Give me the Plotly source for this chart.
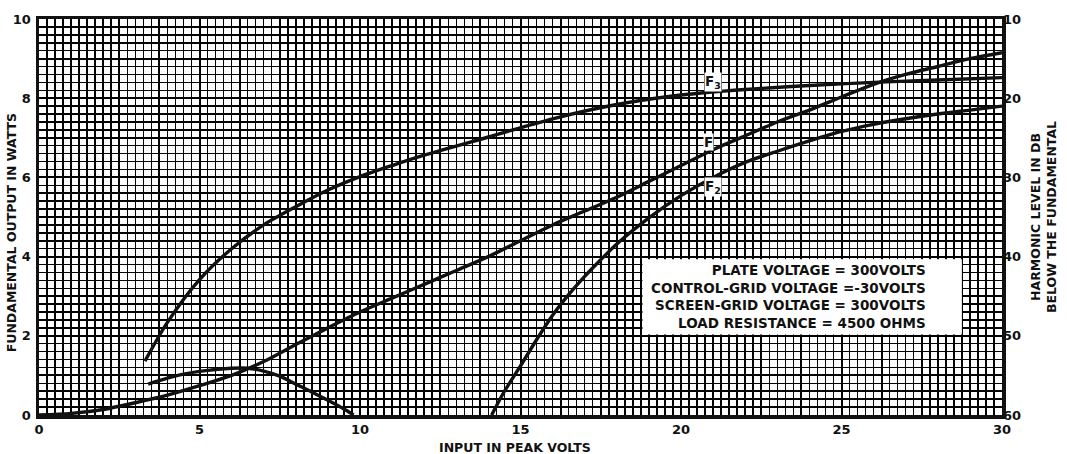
import numpy as np
import plotly.graph_objects as go

# ---------------- data ----------------
# Fundamental output F, watts (left axis)
F_X = [0, 1, 2, 3, 4, 5, 6, 7, 8, 9, 10, 11, 12, 13, 14, 15, 16, 17, 18, 19,
       20, 21, 22, 23, 24, 25, 26, 27, 28, 29, 30]
F_W = [0, 0.04, 0.14, 0.31, 0.5, 0.74, 1.0, 1.35, 1.78, 2.2, 2.6, 2.95, 3.3,
       3.65, 4.0, 4.4, 4.8, 5.15, 5.5, 5.9, 6.3, 6.7, 7.05, 7.4, 7.7, 8.03,
       8.35, 8.6, 8.8, 9.0, 9.15]

# Third harmonic F3, dB below the fundamental (right axis)
F3_X = [3.3, 4, 5, 6, 7, 8, 9, 10, 11, 12, 14, 16, 18, 20, 22, 24, 26, 28, 30]
F3_DB = [53.2, 48.3, 42.9, 39.0, 36.0, 33.7, 31.6, 29.9, 28.5, 27.2, 24.9,
         22.6, 20.8, 19.6, 18.9, 18.4, 18.0, 17.7, 17.4]

# Second harmonic F2, dB below the fundamental (right axis)
F2_X = [14.1, 14.5, 15, 15.5, 16, 16.5, 17, 17.5, 18, 19, 20, 21, 22, 23, 24,
        25, 26, 27, 28, 29, 30]
F2_DB = [60, 57.0, 53.8, 50.5, 47.4, 44.8, 42.5, 40.4, 38.4, 35.1, 32.3, 30.0,
         28.1, 26.7, 25.4, 24.2, 23.3, 22.6, 22.0, 21.5, 21.0]

# Unlabelled low-level harmonic curve, dB (right axis)
H_X = [3.4, 4, 4.5, 5, 5.5, 6, 6.5, 7, 7.5, 8, 8.5, 9, 9.5, 9.8]
H_DB = [56.1, 55.35, 54.85, 54.5, 54.25, 54.1, 54.1, 54.45, 55.1, 56.1, 57.1,
        58.15, 59.25, 60.0]

X_TICK_VALUES = [0, 5, 10, 15, 20, 25, 30]
X_TICK_LABELS = ["0", "5", "10", "15", "20", "25", "30"]
Y_TICK_VALUES = [0, 2, 4, 6, 8, 10]
Y_TICK_LABELS = ["0", "2", "4", "6", "8", "10"]
Y2_TICK_VALUES = [10, 20, 30, 40, 50, 60]
Y2_TICK_LABELS = ["10", "20", "30", "40", "50", "60"]

CONDITIONS = [
    "PLATE VOLTAGE = 300VOLTS",
    "CONTROL-GRID VOLTAGE =-30VOLTS",
    "SCREEN-GRID VOLTAGE = 300VOLTS",
    "LOAD RESISTANCE = 4500 OHMS",
]

# ---------------- figure ----------------
FONT = "DejaVu Sans"
INK = "#111111"
W, H = 1067, 454
ML, MR, MT, MB = 39, 65, 15, 39

# heavy grid every 1.25 V / 1 W, labels only at the given ticks
x_major = list(np.arange(0, 30.001, 1.25))
x_text = [X_TICK_LABELS[X_TICK_VALUES.index(v)] if v in X_TICK_VALUES else ""
          for v in x_major]
y_major = list(range(0, 11))
y_text = [Y_TICK_LABELS[Y_TICK_VALUES.index(v)] if v in Y_TICK_VALUES else ""
          for v in y_major]

line_style = dict(color=INK, width=3.4, shape="spline", smoothing=0.8)

fig = go.Figure()
fig.add_trace(go.Scatter(x=F_X, y=F_W, mode="lines", line=line_style,
                         name="F", yaxis="y", hoverinfo="skip"))
fig.add_trace(go.Scatter(x=F3_X, y=F3_DB, mode="lines", line=line_style,
                         name="F3", yaxis="y2", hoverinfo="skip"))
fig.add_trace(go.Scatter(x=F2_X, y=F2_DB, mode="lines", line=line_style,
                         name="F2", yaxis="y2", hoverinfo="skip"))
fig.add_trace(go.Scatter(x=H_X, y=H_DB, mode="lines", line=line_style,
                         name="H", yaxis="y2", hoverinfo="skip"))

tickfont = dict(family=FONT, size=13, color=INK, weight="bold")

fig.update_layout(
    width=W, height=H,
    margin=dict(l=ML, r=MR, t=MT, b=MB, pad=0),
    paper_bgcolor="white", plot_bgcolor="white",
    showlegend=False,
    xaxis=dict(
        range=[0, 30], tickmode="array", tickvals=x_major, ticktext=x_text,
        showgrid=True, gridcolor="#000000", gridwidth=2.0,
        minor=dict(tick0=0, dtick=0.25, showgrid=True, gridcolor="#000000",
                   gridwidth=1.5),
        showline=True, linecolor=INK, linewidth=3.5, mirror=True,
        zeroline=False, ticks="", tickfont=tickfont,
    ),
    yaxis=dict(
        range=[0, 10], tickmode="array", tickvals=y_major, ticktext=y_text,
        showgrid=True, gridcolor="#000000", gridwidth=2.0,
        minor=dict(tick0=0, dtick=0.2, showgrid=True, gridcolor="#000000",
                   gridwidth=1.5),
        showline=True, linecolor=INK, linewidth=3.5, mirror=True,
        zeroline=False, ticks="", tickfont=tickfont, ticklabelstandoff=2,
    ),
    yaxis2=dict(
        range=[60, 10], overlaying="y", side="right", tickmode="array",
        tickvals=Y2_TICK_VALUES, ticktext=Y2_TICK_LABELS,
        showgrid=False, zeroline=False, ticks="", tickfont=tickfont,
        showline=False,
    ),
)

# white panel holding the operating conditions
fig.add_shape(type="rect", xref="x", yref="y", x0=18.8, x1=28.75, y0=2.03,
              y1=3.93, fillcolor="white", line=dict(width=0), layer="above")

ann_font = dict(family=FONT, size=13.5, color=INK, weight="bold")
fig.add_annotation(x=27.7, y=2.98, xref="x", yref="y", xanchor="right",
                   yanchor="middle", align="right", showarrow=False,
                   text="<br>".join(CONDITIONS), font=ann_font)

# curve labels
lab_font = dict(family=FONT, size=13.5, color=INK, weight="bold")
for txt, xx, yy in [("F<sub>3</sub>", 21.0, 8.4), ("F", 20.85, 6.9),
                    ("F<sub>2</sub>", 21.0, 5.75)]:
    fig.add_annotation(x=xx, y=yy, xref="x", yref="y", text=txt,
                       showarrow=False, font=lab_font, bgcolor="white",
                       borderpad=0)

# axis titles
title_font = dict(family=FONT, size=12.5, color=INK, weight="bold")
fig.add_annotation(text="INPUT IN PEAK VOLTS", xref="paper", yref="paper",
                   x=0.494, y=-0.083, xanchor="center", yanchor="middle",
                   showarrow=False, font=title_font)
fig.add_annotation(text="FUNDAMENTAL OUTPUT IN WATTS", xref="paper",
                   yref="paper", x=-0.029, y=0.459, xanchor="center",
                   yanchor="middle", textangle=-90, showarrow=False,
                   font=title_font)
fig.add_annotation(text="HARMONIC LEVEL IN DB<br>BELOW THE FUNDAMENTAL",
                   xref="paper", yref="paper", x=1.0426, y=0.5,
                   xanchor="center", yanchor="middle", textangle=-90,
                   showarrow=False, font=title_font)

fig.write_html("out.html",
               config={"displayModeBar": False, "staticPlot": True},
               post_script="document.body.style.margin='0';"
                           "document.body.style.overflow='hidden';")
